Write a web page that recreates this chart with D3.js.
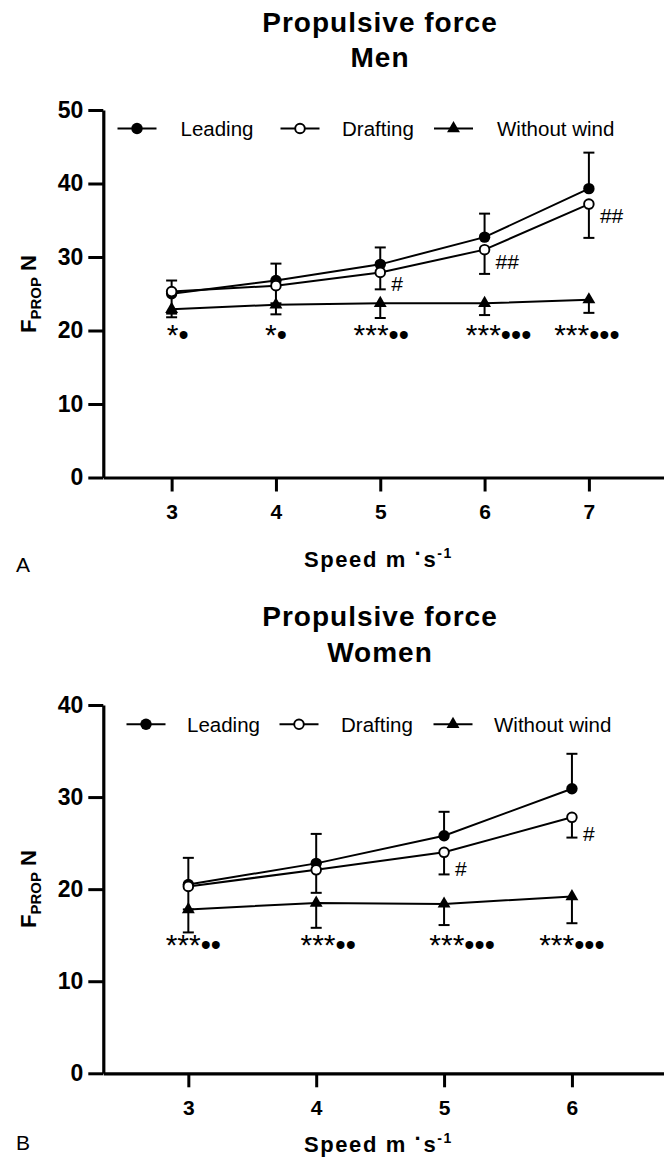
<!DOCTYPE html>
<html>
<head>
<meta charset="utf-8">
<script src="https://cdn.jsdelivr.net/npm/d3@7"></script>
<style>
  body { margin: 0; background: #fff; }
  svg { display: block; font-family: "Liberation Sans", Arial, sans-serif; }
</style>
</head>
<body>
<script>
// ---- data (means, SD shown one-sided) ----
var menSpeed = [3, 4, 5, 6, 7];
var menLeading = [25.0, 26.8, 29.0, 32.7, 39.3];
var menLeadingSD = [1.8, 2.3, 2.3, 3.2, 4.9];
var menDrafting = [25.3, 26.1, 27.9, 31.0, 37.2];
var menDraftingSD = [3.0, 2.4, 2.3, 3.3, 4.6];
var menNoWind = [22.9, 23.5, 23.7, 23.7, 24.2];
var menNoWindSD = [1.1, 1.3, 2.0, 1.6, 1.8];
var menStars = ["*", "*", "***", "***", "***"];
var menDots = ["•", "•", "••", "•••", "•••"];
var menHash = ["", "", "#", "##", "##"];
var menYTicks = [0, 10, 20, 30, 40, 50];

var womenSpeed = [3, 4, 5, 6];
var womenLeading = [20.5, 22.8, 25.8, 30.9];
var womenLeadingSD = [2.9, 3.2, 2.6, 3.8];
var womenDrafting = [20.3, 22.1, 24.0, 27.8];
var womenDraftingSD = [2.5, 2.5, 2.4, 2.2];
var womenNoWind = [17.8, 18.5, 18.4, 19.2];
var womenNoWindSD = [2.5, 2.7, 2.3, 2.9];
var womenStars = ["***", "***", "***", "***"];
var womenDots = ["••", "••", "•••", "•••"];
var womenHash = ["", "", "#", "#"];
var womenYTicks = [0, 10, 20, 30, 40];

var legendNames = ["Leading", "Drafting", "Without wind"];

var W = 664, H = 1168;
var FONT = "'Liberation Sans', Arial, sans-serif";

var svg = d3.select("body").append("svg")
    .attr("width", W)
    .attr("height", H);

// draw one marker of a given kind centred at (cx, cy)
function marker(g, kind, cx, cy) {
    if (kind == "filled") {
        g.append("circle").attr("cx", cx).attr("cy", cy).attr("r", 5.7).attr("fill", "#000");
    } else if (kind == "open") {
        g.append("circle").attr("cx", cx).attr("cy", cy).attr("r", 4.8)
            .attr("fill", "#fff").attr("stroke", "#000").attr("stroke-width", 1.9);
    } else {
        g.append("path")
            .attr("d", d3.symbol().type(d3.symbolTriangle).size(72)())
            .attr("transform", "translate(" + cx + "," + cy + ")")
            .attr("fill", "#000");
    }
}

function drawPanel(p) {
    var x = d3.scaleLinear().domain(p.xDomain).range([103.3, W]);
    var y = d3.scaleLinear().domain([0, p.yMax]).range([p.y0, p.yTop]);
    var g = svg.append("g");

    // titles
    g.append("text").attr("x", 380).attr("y", p.titleY[0])
        .attr("text-anchor", "middle").attr("font-weight", "bold")
        .attr("font-size", 28).attr("letter-spacing", 1)
        .text("Propulsive force");
    g.append("text").attr("x", 380).attr("y", p.titleY[1])
        .attr("text-anchor", "middle").attr("font-weight", "bold")
        .attr("font-size", 28).attr("letter-spacing", 1)
        .text(p.subtitle);

    // axes
    var yAxis = d3.axisLeft(y).tickValues(p.yTicks).tickSize(15).tickPadding(5).tickSizeOuter(0);
    var ya = g.append("g").attr("transform", "translate(103.3,0)").call(yAxis);
    var xAxis = d3.axisBottom(x).tickValues(p.speeds).tickFormat(d3.format("d"))
        .tickSize(14).tickPadding(13).tickSizeOuter(0);
    var xa = g.append("g").attr("transform", "translate(0," + p.y0 + ")").call(xAxis);

    [ya, xa].forEach(function (a) {
        a.attr("font-family", FONT);
        a.select(".domain").attr("stroke-width", 3.2);
        a.selectAll(".tick line").attr("stroke-width", 3);
        a.selectAll(".tick text").attr("font-weight", "bold").attr("fill", "#000");
    });
    ya.selectAll(".tick text").attr("font-size", 23);
    xa.selectAll(".tick text").attr("font-size", 21);

    // y axis label
    var yl = g.append("text")
        .attr("transform", "translate(36," + p.yLabelY + ") rotate(-90)")
        .attr("text-anchor", "middle").attr("font-weight", "bold").attr("font-size", 22);
    yl.append("tspan").text("F");
    yl.append("tspan").attr("font-size", 15).attr("dy", 5).text("PROP");
    yl.append("tspan").attr("dy", -5).text(" N");

    // x axis label
    var xl = g.append("text").attr("x", 378.5).attr("y", p.xLabelY)
        .attr("text-anchor", "middle").attr("font-weight", "bold")
        .attr("font-size", 22).attr("letter-spacing", 1.6);
    xl.append("tspan").text("Speed m ");
    xl.append("tspan").attr("dy", -6).text("·");
    xl.append("tspan").attr("dy", 6).text("s");
    xl.append("tspan").attr("font-size", 14).attr("dy", -9).text("-1");

    // panel letter
    g.append("text").attr("x", 16).attr("y", p.letterY)
        .attr("font-size", 21).text(p.letter);

    // series
    var series = [
        { vals: p.leading, sd: p.leadingSD, dir: 1, kind: "filled" },
        { vals: p.drafting, sd: p.draftingSD, dir: -1, kind: "open" },
        { vals: p.noWind, sd: p.noWindSD, dir: -1, kind: "triangle" }
    ];

    var line = d3.line()
        .x(function (d, i) { return x(p.speeds[i]); })
        .y(function (d) { return y(d); });

    series.forEach(function (s) {
        g.append("path").attr("d", line(s.vals))
            .attr("fill", "none").attr("stroke", "#000").attr("stroke-width", 2);
    });

    // error bars
    series.forEach(function (s) {
        s.vals.forEach(function (v, i) {
            var cx = x(p.speeds[i]);
            var end = y(v + s.dir * s.sd[i]);
            g.append("line").attr("x1", cx).attr("x2", cx)
                .attr("y1", y(v)).attr("y2", end)
                .attr("stroke", "#000").attr("stroke-width", 2);
            g.append("line").attr("x1", cx - 5.5).attr("x2", cx + 5.5)
                .attr("y1", end).attr("y2", end)
                .attr("stroke", "#000").attr("stroke-width", 2);
        });
    });

    // markers: without wind, leading, then drafting on top
    [series[2], series[0], series[1]].forEach(function (s) {
        s.vals.forEach(function (v, i) {
            marker(g, s.kind, x(p.speeds[i]), y(v));
        });
    });

    // significance marks under each speed
    p.stars.forEach(function (t, i) {
        var tx = g.append("text")
            .attr("x", x(p.speeds[i]) + p.starDx[i])
            .attr("y", y(p.annotY))
            .attr("text-anchor", "middle")
            .attr("font-size", 30);
        tx.append("tspan").text(t);
        tx.append("tspan").attr("font-size", 29).text(p.dots[i]);
    });

    // # marks next to drafting points
    p.hash.forEach(function (t, i) {
        if (!t) return;
        g.append("text")
            .attr("x", x(p.speeds[i]) + 11)
            .attr("y", y(p.drafting[i]) + p.hashDy)
            .attr("font-size", 21)
            .text(t);
    });

    // legend
    var kinds = ["filled", "open", "triangle"];
    kinds.forEach(function (k, i) {
        var mx = p.legendMarkX[i];
        g.append("line").attr("x1", mx - 19.5).attr("x2", mx + 19.5)
            .attr("y1", p.legendY).attr("y2", p.legendY)
            .attr("stroke", "#000").attr("stroke-width", 2);
        marker(g, k, mx, p.legendY);
        g.append("text").attr("x", p.legendTextX[i]).attr("y", p.legendY + 7.5)
            .attr("font-size", 20.5).text(legendNames[i]);
    });
}

drawPanel({
    subtitle: "Men", letter: "A",
    speeds: menSpeed, leading: menLeading, leadingSD: menLeadingSD,
    drafting: menDrafting, draftingSD: menDraftingSD,
    noWind: menNoWind, noWindSD: menNoWindSD,
    stars: menStars, dots: menDots, hash: menHash, yTicks: menYTicks,
    xDomain: [2.345, 7.72], yMax: 50, y0: 477.5, yTop: 110,
    titleY: [32, 67], xLabelY: 566.7, letterY: 571.7, yLabelY: 294,
    legendY: 128.5, legendMarkX: [137, 300, 453.5], legendTextX: [180.5, 342, 497],
    annotY: 18.0, starDx: [6, 0, 1, 14, -2], hashDy: 19
});

drawPanel({
    subtitle: "Women", letter: "B",
    speeds: womenSpeed, leading: womenLeading, leadingSD: womenLeadingSD,
    drafting: womenDrafting, draftingSD: womenDraftingSD,
    noWind: womenNoWind, noWindSD: womenNoWindSD,
    stars: womenStars, dots: womenDots, hash: womenHash, yTicks: womenYTicks,
    xDomain: [2.335, 6.72], yMax: 40, y0: 1073.3, yTop: 705,
    titleY: [625.5, 662], xLabelY: 1152, letterY: 1150, yLabelY: 889,
    legendY: 724.3, legendMarkX: [146, 299, 453], legendTextX: [187, 341, 494],
    annotY: 12.85, starDx: [5, 12, 18, 0], hashDy: 24
});
</script>
</body>
</html>
